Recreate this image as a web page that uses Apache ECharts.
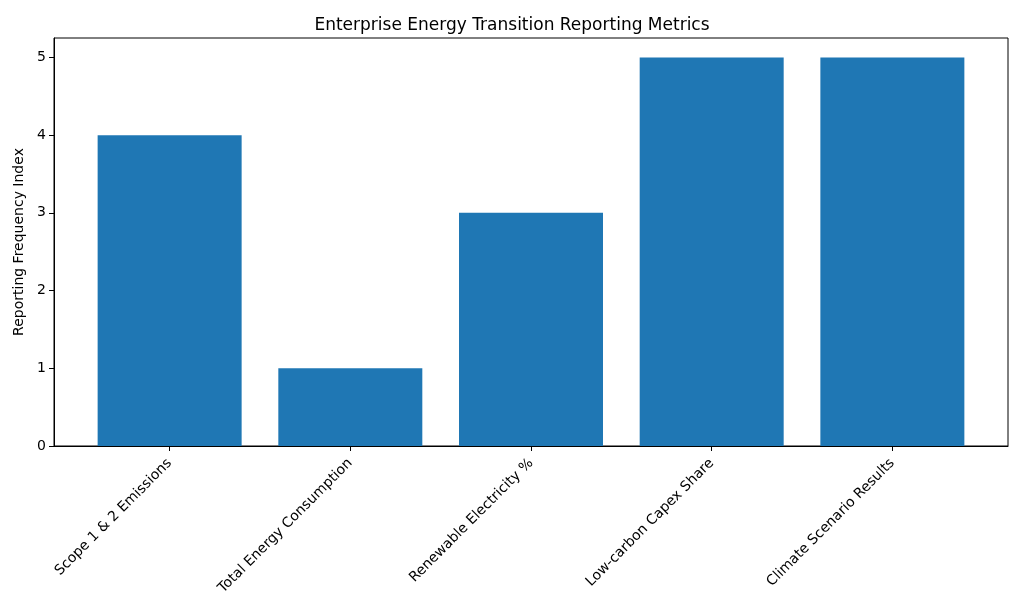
<!DOCTYPE html>
<html><head><meta charset="utf-8">
<script src="https://cdn.jsdelivr.net/npm/echarts@6/dist/echarts.min.js"></script>
<style>html,body{margin:0;padding:0;background:#fff}#c{width:1024px;height:614px}</style>
</head><body><div id="c"></div>
<script>
const categories = ["Scope 1 & 2 Emissions", "Total Energy Consumption", "Renewable Electricity %", "Low-carbon Capex Share", "Climate Scenario Results"];
const values = [4, 1, 3, 5, 5];
const yTicks = [0, 1, 2, 3, 4, 5];
const positions = categories.map((c, i) => i);

const chart = echarts.init(document.getElementById('c'));
const font = 'DejaVu Sans';
chart.setOption({
  animation: false,
  title: { text: 'Enterprise Energy Transition Reporting Metrics', left: 'center', top: 12,
    textStyle: { fontFamily: font, fontSize: 17, fontWeight: 'normal', color: '#000' } },
  grid: { left: 54, right: 16, top: 38, bottom: 168, show: true, borderColor: '#000', borderWidth: 1 },
  xAxis: {
    type: 'value', min: -0.64, max: 4.64,
    splitLine: { show: false },
    axisLine: { show: true, onZero: false, lineStyle: { color: '#000' } },
    axisTick: { show: true, customValues: positions, length: 5, lineStyle: { color: '#000' } },
    axisLabel: { customValues: positions, rotate: 45, margin: 15, formatter: v => categories[Math.round(v)],
      fontFamily: font, fontSize: 14, color: '#000' }
  },
  yAxis: {
    type: 'value', min: 0, max: 5.25,
    name: 'Reporting Frequency Index', nameLocation: 'middle', nameGap: 23,
    nameTextStyle: { fontFamily: font, fontSize: 14, color: '#000' },
    splitLine: { show: false },
    axisLine: { show: true, onZero: false, lineStyle: { color: '#000' } },
    axisTick: { show: true, customValues: yTicks, length: 5, lineStyle: { color: '#000' } },
    axisLabel: { customValues: yTicks, fontFamily: font, fontSize: 14, color: '#000', margin: 8 }
  },
  series: [{
    type: 'bar', barWidth: 144,
    data: positions.map((p, i) => [p, values[i]]),
    itemStyle: { color: '#1f77b4' }
  }]
});
</script></body></html>
